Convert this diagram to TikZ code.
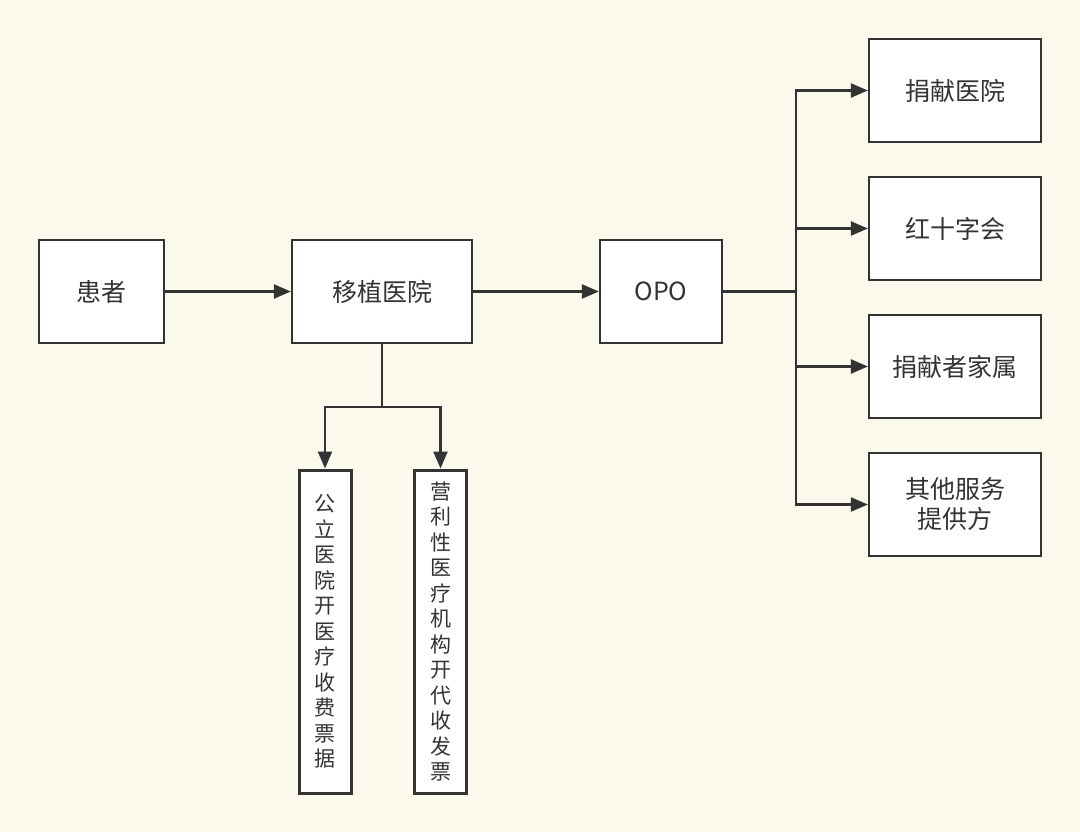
\documentclass[tikz,border=0pt]{standalone}
\usepackage{fontspec}
\setmainfont{Noto Sans CJK SC}
\usetikzlibrary{arrows.meta}
\definecolor{bg}{HTML}{FBF8EC}
\definecolor{ink}{HTML}{333333}
\tikzset{
  box/.style={draw=ink, fill=white, line width=2.2pt, inner sep=0pt, text=ink, font=\fontsize{25}{30}\selectfont, align=center},
  vbox/.style={draw=ink, fill=white, line width=3pt, inner sep=0pt, text=ink, font=\fontsize{21}{25.5}\selectfont, align=center, minimum width=52pt, minimum height=323pt},
  arr/.style={draw=ink, line width=2.2pt, -{Triangle[length=17pt,width=14pt]}},
  ln/.style={draw=ink, line width=2.2pt}
}
\begin{document}
\begin{tikzpicture}[x=1pt,y=-1pt]
\fill[bg] (0,0) rectangle (1080,832);
\useasboundingbox (0,0) rectangle (1080,832);
\node[box, minimum width=125pt, minimum height=103pt] (hz) at (101.5,291.5) {患者};
\node[box, minimum width=180pt, minimum height=103pt] (yz) at (382,291.5) {移植医院};
\node[box, minimum width=122pt, minimum height=103pt] (opo) at (661,291.5) {OPO};
\node[box, minimum width=172pt, minimum height=103pt] (b1) at (955,90.5) {捐献医院};
\node[box, minimum width=172pt, minimum height=103pt] (b2) at (955,228.5) {红十字会};
\node[box, minimum width=172pt, minimum height=103pt] (b3) at (955,366.5) {捐献者家属};
\node[box, minimum width=172pt, minimum height=103pt] (b4) at (955,504.5) {其他服务\\提供方};
\node[vbox] (v1) at (325,631.5) {公\\立\\医\\院\\开\\医\\疗\\收\\费\\票\\据};
\node[vbox] (v2) at (440.5,631.5) {营\\利\\性\\医\\疗\\机\\构\\开\\代\\收\\发\\票};
\coordinate (trunk) at (796,291.5);
\coordinate (split) at (382,407);
\draw[arr] (hz.east) -- (yz.west);
\draw[arr] (yz.east) -- (opo.west);
\draw[ln] (opo.east) -- (trunk);
\draw[arr] (trunk) |- (b1.west);
\draw[arr] (trunk) |- (b2.west);
\draw[arr] (trunk) |- (b3.west);
\draw[arr] (trunk) |- (b4.west);
\draw[ln] (yz.south) -- (split);
\draw[arr] (split) -| (v1.north);
\draw[arr] (split) -| (v2.north);
\end{tikzpicture}
\end{document}
